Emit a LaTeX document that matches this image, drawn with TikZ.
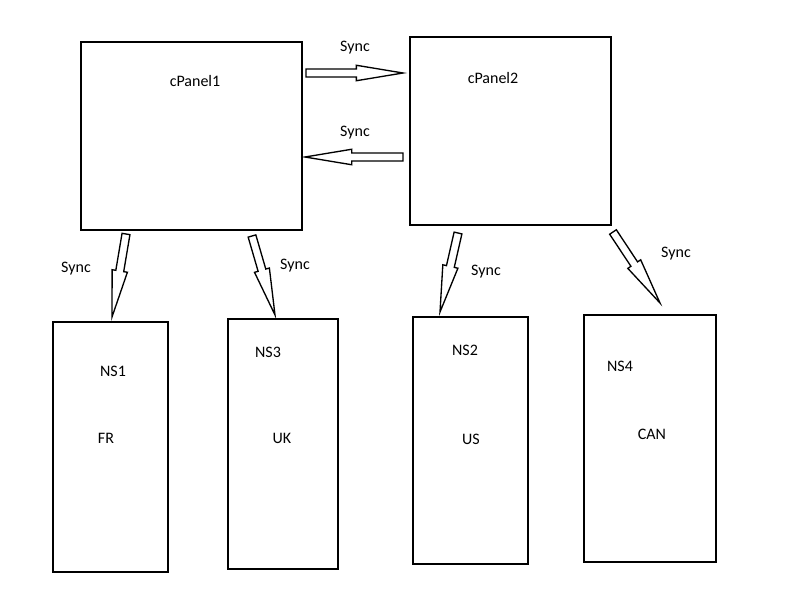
\documentclass[tikz,border=0pt]{standalone}
\usepackage{fontspec}
\setmainfont{Carlito}
\usetikzlibrary{calc}

\tikzset{
  panel/.style={draw,line width=1.6pt,anchor=north west,inner sep=0pt},
  syncarrow/.style={draw,line width=1pt,fill=white},
  lbl/.style={font=\fontsize{12}{14}\selectfont,inner sep=0pt}
}

% block arrow from tail coordinate #1 to tip coordinate #2
\newcommand\syncfrom[2]{%
  \coordinate (hb) at ($(#2)!35pt!(#1)$);
  \draw[syncarrow] ($(#1)!3pt!90:(#2)$) -- ($(hb)!3pt!90:(#2)$)
    -- ($(hb)!5.8pt!90:(#2)$) -- (#2) -- ($(hb)!5.8pt!-90:(#2)$)
    -- ($(hb)!3pt!-90:(#2)$) -- ($(#1)!3pt!-90:(#2)$) -- cycle;}

\begin{document}
\begin{tikzpicture}[x=0.75pt,y=-0.75pt]
\useasboundingbox (0,0) rectangle (800,600);

% panels
\node[panel,minimum width=165.75pt,minimum height=141pt] (c1) at (80,41) {};
\node[panel,minimum width=150.75pt,minimum height=141pt] (c2) at (409,36) {};

% name servers
\node[panel,minimum width=86.25pt,minimum height=187.5pt] (ns1) at (52,321) {};
\node[panel,minimum width=82.5pt,minimum height=187.5pt] (ns3) at (227,318) {};
\node[panel,minimum width=86.25pt,minimum height=185.25pt] (ns2) at (412,316) {};
\node[panel,minimum width=99pt,minimum height=185.25pt] (ns4) at (583,314) {};

\node[lbl] (c1name) at (195,81) {cPanel1};
\node[lbl] (c2name) at (493,78) {cPanel2};
\node[lbl] (ns1name) at (113,371) {NS1};
\node[lbl] (ns1loc) at (106,438) {FR};
\node[lbl] (ns3name) at (268,352) {NS3};
\node[lbl] (ns3loc) at (282,438) {UK};
\node[lbl] (ns2name) at (465,350) {NS2};
\node[lbl] (ns2loc) at (471,439) {US};
\node[lbl] (ns4name) at (620,366) {NS4};
\node[lbl] (ns4loc) at (652,434) {CAN};

% arrow ends
\coordinate (h1a) at (306,73);  \coordinate (h1b) at (403,73);
\coordinate (h2a) at (403,157); \coordinate (h2b) at (305,157);
\coordinate (da) at (126,234);  \coordinate (db) at (112,317);
\coordinate (ea) at (252,236);  \coordinate (eb) at (275,315);
\coordinate (fa) at (458,233);  \coordinate (fb) at (440,312);
\coordinate (ga) at (613,232);  \coordinate (gb) at (660,303);

\syncfrom{h1a}{h1b}
\syncfrom{h2a}{h2b}
\syncfrom{da}{db}
\syncfrom{ea}{eb}
\syncfrom{fa}{fb}
\syncfrom{ga}{gb}

\node[lbl] (s1) at (355,48) {Sync};
\node[lbl] (s2) at (355,133) {Sync};
\node[lbl] (s3) at (76,269) {Sync};
\node[lbl] (s4) at (295,266) {Sync};
\node[lbl] (s5) at (486,272) {Sync};
\node[lbl] (s6) at (676,254) {Sync};
\end{tikzpicture}
\end{document}
